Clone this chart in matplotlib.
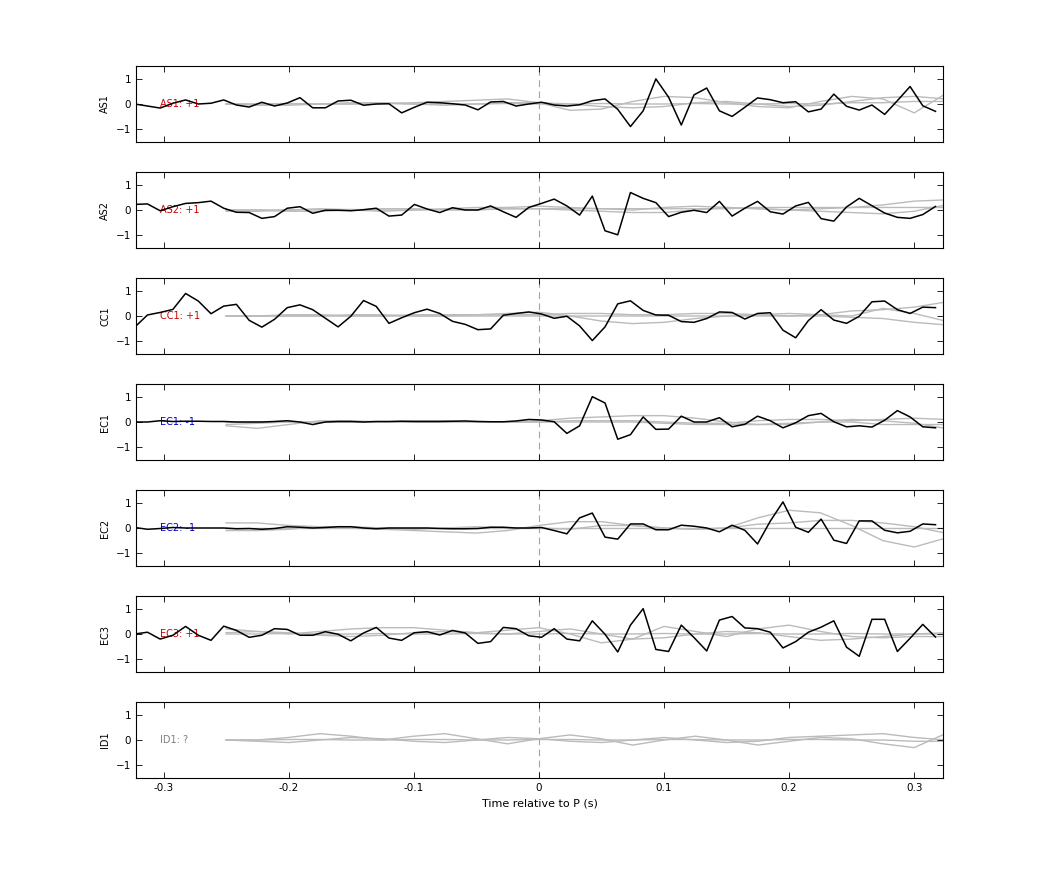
import numpy as np
import matplotlib
matplotlib.use("Agg")
import matplotlib.pyplot as plt

stations = ["AS1", "AS2", "CC1", "EC1", "EC2", "EC3", "ID1"]
labels = ["AS1: +1", "AS2: +1", "CC1: +1", "EC1: -1", "EC2: -1", "EC3: +1", "ID1: ?"]
label_colors = ["#cc0000", "#cc0000", "#cc0000", "#0000cc", "#0000cc", "#cc0000", "#808080"]

t_start, t_end, n_samp = -0.323, 0.317, 64

as1 = [0, -0.08, -0.16, 0.03, 0.16, 0, 0.03, 0.16, -0.04, -0.12, 0.07, -0.08, 0.04, 0.25, -0.15, -0.15,
       0.12, 0.15, -0.05, 0, 0.01, -0.35, -0.13, 0.07, 0.05, 0.01, -0.04, -0.23, 0.08, 0.1, -0.08, 0,
       0.07, -0.04, -0.08, -0.03, 0.13, 0.2, -0.21, -0.89, -0.27, 0.99, 0.27, -0.83, 0.36, 0.63,
       -0.27, -0.49, -0.13, 0.24, 0.17, 0.05, 0.09, -0.31, -0.2, 0.39, -0.09, -0.24, -0.04, -0.41,
       0.13, 0.69, -0.07, -0.29]
as2 = [0.22, 0.24, -0.03, 0.13, 0.26, 0.29, 0.35, 0.07, -0.09, -0.1, -0.33, -0.26, 0.07, 0.13, -0.13,
       -0.01, -0.01, -0.03, 0.01, 0.07, -0.24, -0.2, 0.22, 0.04, -0.1, 0.09, 0, 0, 0.16, -0.07, -0.29,
       0.1, 0.26, 0.43, 0.16, -0.2, 0.55, -0.82, -0.98, 0.69, 0.46, 0.29, -0.26, -0.09, -0.01, -0.1,
       0.34, -0.24, 0.07, 0.34, -0.07, -0.16, 0.16, 0.3, -0.34, -0.44, 0.12, 0.46, 0.17, -0.12, -0.29,
       -0.33, -0.18, 0.14]
cc1 = [-0.44, 0.04, 0.14, 0.26, 0.89, 0.59, 0.09, 0.39, 0.46, -0.17, -0.44, -0.13, 0.33, 0.44, 0.25,
       -0.09, -0.43, -0.01, 0.61, 0.38, -0.29, -0.07, 0.13, 0.27, 0.1, -0.21, -0.33, -0.54, -0.51, 0.03,
       0.1, 0.16, 0.08, -0.09, -0.01, -0.39, -0.97, -0.43, 0.48, 0.6, 0.22, 0.04, 0.03, -0.22, -0.25,
       -0.1, 0.16, 0.14, -0.12, 0.1, 0.13, -0.56, -0.86, -0.18, 0.25, -0.16, -0.29, -0.01, 0.56, 0.59,
       0.25, 0.1, 0.35, 0.33]
ec1 = [0, 0, 0.05, 0.02, 0.03, 0.03, 0.02, 0.02, 0, 0, 0, 0.02, 0.05, 0, -0.1, 0, 0.02, 0.02, 0, 0.02,
       0.02, 0.03, 0.02, 0.02, 0.02, 0.03, 0.04, 0.02, 0.01, 0.01, 0.04, 0.1, 0.08, 0.01, -0.45, -0.15,
       1.0, 0.75, -0.68, -0.5, 0.2, -0.29, -0.28, 0.23, 0, 0, 0.17, -0.19, -0.09, 0.23, 0.05, -0.23,
       -0.03, 0.25, 0.34, 0.01, -0.19, -0.15, -0.2, 0.07, 0.45, 0.2, -0.19, -0.23]
ec2 = [0.02, -0.05, -0.02, 0.02, 0, 0, 0, 0, -0.03, -0.02, -0.05, -0.02, 0.05, 0.03, 0, 0.02, 0.05,
       0.05, 0, -0.03, 0, 0, 0, 0, -0.02, -0.03, -0.03, -0.02, 0.03, 0.03, 0, 0, 0.02, -0.1, -0.23,
       0.4, 0.59, -0.36, -0.44, 0.16, 0.16, -0.07, -0.07, 0.11, 0.07, 0, -0.15, 0.11, -0.09, -0.63,
       0.27, 1.03, 0.03, -0.17, 0.35, -0.48, -0.61, 0.28, 0.28, -0.09, -0.19, -0.13, 0.16, 0.13]
ec3 = [0, 0.07, -0.2, -0.05, 0.3, -0.05, -0.25, 0.31, 0.14, -0.13, -0.05, 0.21, 0.18, -0.05, -0.05,
       0.09, -0.01, -0.27, 0.04, 0.26, -0.16, -0.25, 0.05, 0.09, -0.04, 0.14, 0.04, -0.37, -0.3, 0.26,
       0.21, -0.07, -0.13, 0.21, -0.2, -0.27, 0.52, -0.01, -0.71, 0.35, 1.0, -0.61, -0.69, 0.35, -0.14,
       -0.67, 0.55, 0.69, 0.24, 0.21, 0.07, -0.55, -0.3, 0.07, 0.27, 0.52, -0.52, -0.88, 0.58, 0.58,
       -0.69, -0.17, 0.38, -0.12]
black = [as1, as2, cc1, ec1, ec2, ec3, None]

# gray reference traces, sampled every 0.025 s from -0.25 s
g_start, g_step = -0.25, 0.025
gray = {
    "AS1": [[0, 0, 0, 0, 0, 0.02, 0.05, 0.1, 0.15, 0.2, 0.05, -0.25, -0.2, 0.1, 0.3, 0.25, 0.05, -0.1, -0.15, 0.1, 0.3, 0.2, -0.35, 0.4],
            [0, -0.05, -0.05, 0, 0.05, 0.05, 0, -0.05, 0, 0.05, 0.05, 0, -0.1, -0.15, -0.1, 0.05, 0.1, 0, -0.1, -0.05, 0.1, 0.25, 0.3, 0.2],
            [0, 0, 0.02, 0, 0, 0.02, 0, 0, 0, 0.02, 0, 0, 0.02, 0, 0, 0.02, 0, 0, 0.02, 0, 0.05, 0.05, 0.1, 0.1]],
    "AS2": [[-0.05, -0.05, 0, 0.05, 0, -0.05, 0, 0.05, 0.1, 0.1, 0.15, 0.1, 0.05, 0, 0.1, 0.15, 0.1, 0.05, 0, 0.05, 0.1, 0.2, 0.35, 0.4],
            [0, 0, -0.05, -0.05, 0, 0.05, 0.05, 0, 0, 0.05, 0.05, 0, -0.05, -0.1, -0.1, 0, 0.1, 0.05, 0, -0.05, -0.1, -0.15, -0.05, 0.2],
            [0, 0, 0, 0.02, 0.02, 0, 0, 0.02, 0.02, 0.05, 0.05, 0.05, 0.05, 0.05, 0.05, 0.05, 0.05, 0.1, 0.1, 0.1, 0.1, 0.1, 0.1, 0.1]],
    "CC1": [[0, 0, 0.05, 0.05, 0, 0, 0.05, 0.05, 0.05, 0.1, 0.15, 0, -0.2, -0.3, -0.25, -0.1, 0, 0.05, 0.1, 0.05, 0, 0.3, 0.1, -0.2],
            [0, 0, 0, 0, 0.05, 0.05, 0, 0, 0.05, 0.05, 0.05, 0.1, 0.1, 0.05, 0.05, 0.1, 0.1, 0.05, 0, 0.05, 0.2, 0.25, 0.35, 0.55],
            [0, 0, 0, 0, 0, 0, 0, 0, 0, 0, 0, 0, 0, 0, 0, 0, 0, 0, 0, 0, -0.05, -0.1, -0.25, -0.35]],
    "EC1": [[-0.15, -0.25, -0.1, 0.05, 0.05, 0, 0.05, 0.05, 0, 0, 0.05, 0.15, 0.2, 0.25, 0.25, 0.15, 0, -0.1, -0.1, 0, 0.1, 0.05, -0.05, -0.25],
            [-0.1, -0.05, 0, 0, 0, 0, 0, 0, 0, 0, 0, 0.05, 0.05, 0.05, 0, -0.05, -0.05, 0.05, 0.1, 0.1, 0.05, 0.1, 0.15, 0.1],
            [0, 0, 0, 0, 0, 0, 0, 0, 0, 0, 0, 0, 0, 0, -0.05, -0.1, -0.1, -0.1, -0.05, 0, 0, -0.1, -0.1, -0.1]],
    "EC2": [[0.2, 0.2, 0.1, 0.05, 0, -0.05, -0.1, -0.15, -0.2, -0.1, 0.1, 0.25, 0.25, 0.1, 0, -0.05, 0, 0.4, 0.7, 0.6, 0.1, -0.5, -0.75, -0.4],
            [-0.1, -0.1, -0.05, 0.05, 0.05, 0, -0.05, 0, 0.05, 0, 0, -0.05, 0.1, 0.1, 0, -0.05, 0, 0.15, 0.2, 0.3, 0.3, 0.2, 0.05, -0.2],
            [0, 0, 0, 0, 0, 0, 0, 0, 0, 0, 0, 0, 0, 0, 0, 0, 0, 0, 0, 0, 0, 0, 0, 0]],
    "EC3": [[0.2, 0.1, 0, 0.1, 0.2, 0.25, 0.25, 0.15, 0.05, 0.15, 0.25, 0, -0.35, -0.2, 0.3, 0.1, -0.1, 0.2, 0.35, 0.1, -0.1, -0.15, -0.1, -0.1],
            [0.05, 0.1, 0.05, -0.05, -0.1, -0.05, 0.05, 0.1, 0.05, 0, 0.1, 0.2, 0, -0.2, -0.15, 0, 0.1, 0.05, -0.1, -0.25, -0.2, -0.1, 0, 0.05],
            [0, 0, 0.02, 0, 0, 0.02, 0, 0, 0.02, 0, 0, 0.02, 0, 0, 0.02, 0, 0, 0.02, 0, 0, 0.02, 0, 0, 0]],
    "ID1": [[0, 0, 0.1, 0.25, 0.15, 0, 0.15, 0.25, 0.05, -0.15, 0.05, 0.2, 0.05, -0.2, 0, 0.15, 0, -0.2, -0.05, 0.1, 0.05, -0.15, -0.3, 0.25],
            [0, -0.05, -0.1, 0, 0.1, 0.05, -0.05, -0.1, 0, 0.1, 0.05, -0.05, -0.1, 0, 0.1, 0, -0.1, -0.05, 0.1, 0.15, 0.2, 0.25, 0.1, 0],
            [0, 0, 0.02, 0.02, 0, 0, 0.02, 0.02, 0, 0, 0.02, 0.02, 0, 0, 0.02, 0.02, 0, 0, 0.02, 0.02, 0, 0, -0.05, -0.05]],
}

x_ticks = [-0.3, -0.2, -0.1, 0, 0.1, 0.2, 0.3]
y_ticks = [-1, 0, 1]

fig = plt.figure(figsize=(10.42, 8.75), dpi=100)
W, H = 1042, 875
left, right = 136, 943
tops = [66, 172, 278, 384, 490, 596, 702]
ph = 76
t_black = np.linspace(t_start, t_end, n_samp)
for i, st in enumerate(stations):
    ax = fig.add_axes([left / W, 1 - (tops[i] + ph) / H, (right - left) / W, ph / H])
    for g in gray[st]:
        tg = g_start + g_step * np.arange(len(g))
        ax.plot(tg, g, color="#bbbbbb", lw=1.0, zorder=1)
    ax.axvline(0, color="#d09090", lw=0.8, dashes=(6, 4), zorder=0)
    if black[i] is not None:
        ax.plot(t_black, black[i], color="black", lw=1.1, zorder=3)
    ax.text(-0.303, 0, labels[i], color=label_colors[i], fontsize=7, va="center", ha="left", zorder=2)
    ax.set_xlim(-0.322, 0.323)
    ax.set_ylim(-1.5, 1.5)
    ax.set_xticks(x_ticks)
    ax.set_yticks(y_ticks)
    ax.tick_params(direction="in", top=True, right=True, labelsize=7.5, length=4, width=0.6)
    ax.set_ylabel(st, fontsize=7)
    for s in ax.spines.values():
        s.set_linewidth(0.8)
    if i < len(stations) - 1:
        ax.set_xticklabels([])
    else:
        ax.set_xticklabels(["-0.3", "-0.2", "-0.1", "0", "0.1", "0.2", "0.3"])
        ax.set_xlabel("Time relative to P (s)", fontsize=8)

fig.savefig("out.png", dpi=100)
